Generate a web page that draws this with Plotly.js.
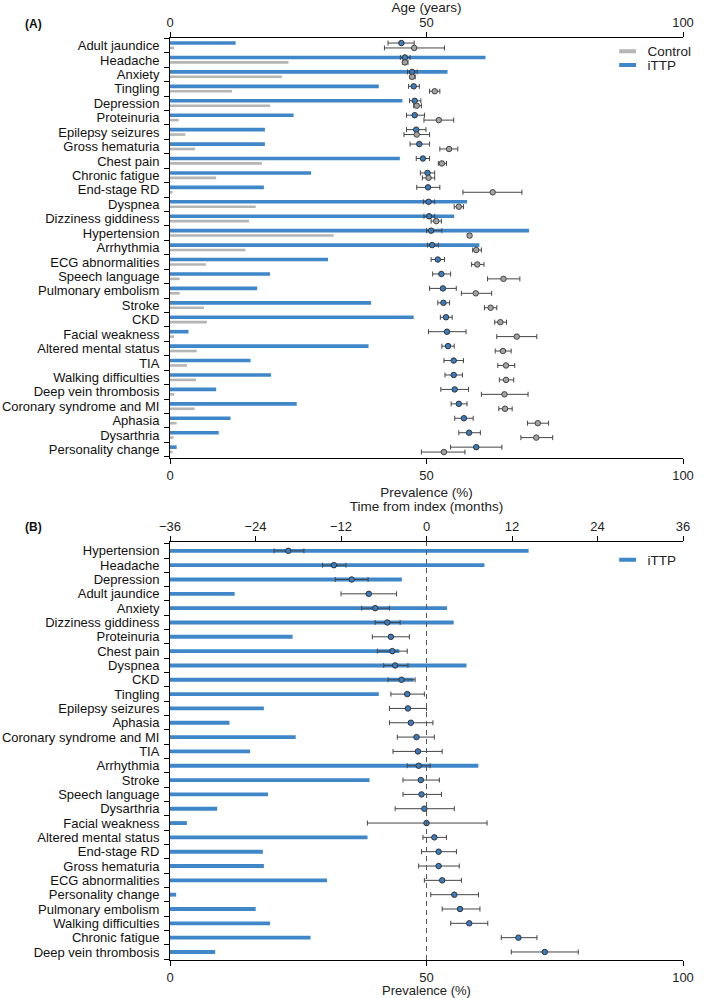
<!DOCTYPE html>
<html>
<head>
<meta charset="utf-8">
<script src="https://cdn.plot.ly/plotly-3.0.1.min.js"></script>
<style>body{margin:0;background:#fff}</style>
</head>
<body>
<div id="chart" style="width:709px;height:998px"></div>
<script>
/*===== Data =====*/
// Panel A - prevalence and age at onset, iTTP vs control
const symptomsA = ['Adult jaundice', 'Headache', 'Anxiety', 'Tingling', 'Depression', 'Proteinuria',
  'Epilepsy seizures', 'Gross hematuria', 'Chest pain', 'Chronic fatigue', 'End-stage RD', 'Dyspnea',
  'Dizziness giddiness', 'Hypertension', 'Arrhythmia', 'ECG abnormalities', 'Speech language',
  'Pulmonary embolism', 'Stroke', 'CKD', 'Facial weakness', 'Altered mental status', 'TIA',
  'Walking difficulties', 'Deep vein thrombosis', 'Coronary syndrome and MI', 'Aphasia', 'Dysarthria',
  'Personality change'];
const ittpPrevA = [12.8, 61.5, 54.1, 40.7, 45.3, 24.1, 18.5, 18.5, 44.8, 27.5, 18.3, 57.9, 55.4, 70.0, 60.3,
  30.8, 19.5, 17.0, 39.2, 47.5, 3.6, 38.7, 15.7, 19.7, 9.0, 24.7, 11.8, 9.5, 1.3];
const ctrlPrevA = [0.8, 23.1, 21.8, 12.1, 19.5, 1.7, 3.0, 4.9, 17.9, 9.0, 0.5, 16.7, 15.4, 31.9, 14.7,
  7.0, 1.9, 1.9, 6.6, 7.2, 0.8, 5.2, 3.3, 5.1, 0.8, 4.8, 1.3, 0.7, 0.5];
const ittpAge = [45.1, 45.8, 47.2, 47.5, 47.7, 47.7, 48.0, 48.6, 49.3, 50.2, 50.3, 50.4, 50.5, 50.9, 51.1,
  52.2, 52.9, 53.2, 53.3, 53.8, 54.0, 54.2, 55.3, 55.3, 55.5, 56.3, 57.3, 58.3, 59.7];
const ittpAgeLo = [42.5, 44.9, 46.3, 46.5, 46.7, 46.1, 46.1, 46.8, 48.0, 48.8, 48.1, 49.4, 49.5, 50.0, 50.2,
  50.9, 51.2, 50.6, 52.2, 52.7, 50.4, 53.0, 53.4, 53.6, 52.8, 54.8, 55.5, 56.3, 54.7];
const ittpAgeHi = [47.6, 46.8, 48.2, 48.6, 48.9, 49.6, 49.9, 50.6, 50.6, 51.6, 52.6, 51.6, 51.6, 53.0, 52.3,
  53.5, 54.7, 55.8, 54.5, 55.0, 57.7, 55.4, 57.2, 57.0, 58.2, 57.9, 59.1, 60.5, 64.7];
const ctrlAge = [47.6, 45.8, 47.2, 51.6, 48.1, 52.4, 48.1, 54.4, 53.0, 50.4, 62.9, 56.3, 51.9, 58.4, 59.7,
  59.9, 65.0, 59.6, 62.5, 64.4, 67.6, 64.9, 65.5, 65.5, 65.2, 65.3, 71.7, 71.4, 53.4];
const ctrlAgeLo = [41.8, 45.3, 46.8, 50.6, 47.5, 49.5, 45.6, 52.6, 52.3, 49.2, 57.1, 55.4, 50.9, 58.1, 59.0,
  58.8, 61.9, 56.8, 61.3, 63.3, 63.7, 63.4, 63.9, 64.2, 60.7, 64.1, 69.7, 68.4, 49.0];
const ctrlAgeHi = [53.5, 46.4, 47.8, 52.6, 49.0, 55.3, 50.6, 56.1, 53.9, 51.6, 68.6, 57.2, 52.9, 58.7, 60.7,
  61.2, 68.2, 62.7, 63.7, 65.6, 71.5, 66.5, 67.2, 67.0, 69.8, 66.7, 73.8, 74.6, 57.5];

// Panel B - prevalence and time from index, iTTP only
const symptomsB = ['Hypertension', 'Headache', 'Depression', 'Adult jaundice', 'Anxiety', 'Dizziness giddiness',
  'Proteinuria', 'Chest pain', 'Dyspnea', 'CKD', 'Tingling', 'Epilepsy seizures', 'Aphasia',
  'Coronary syndrome and MI', 'TIA', 'Arrhythmia', 'Stroke', 'Speech language', 'Dysarthria',
  'Facial weakness', 'Altered mental status', 'End-stage RD', 'Gross hematuria', 'ECG abnormalities',
  'Personality change', 'Pulmonary embolism', 'Walking difficulties', 'Chronic fatigue', 'Deep vein thrombosis'];
const ittpPrevB = [69.9, 61.3, 45.2, 12.6, 54.0, 55.3, 23.9, 44.7, 57.8, 47.5, 40.7, 18.3, 11.6, 24.5, 15.6,
  60.1, 38.9, 19.1, 9.2, 3.3, 38.5, 18.1, 18.3, 30.6, 1.2, 16.7, 19.5, 27.4, 8.8];
const timeB = [-19.4, -13.0, -10.5, -8.1, -7.2, -5.5, -5.0, -4.8, -4.4, -3.5, -2.7, -2.6, -2.2, -1.4, -1.2,
  -1.1, -0.8, -0.7, -0.3, 0.0, 1.1, 1.7, 1.7, 2.2, 3.9, 4.7, 6.0, 12.9, 16.6];
const timeLoB = [-21.4, -14.6, -12.8, -12.0, -9.1, -7.2, -7.6, -6.9, -6.0, -5.4, -5.0, -5.2, -5.2, -4.1, -4.7,
  -2.7, -3.3, -3.3, -4.4, -8.3, -0.5, -0.7, -1.1, -0.3, 0.6, 2.2, 3.4, 10.5, 11.9];
const timeHiB = [-17.2, -11.3, -8.2, -4.2, -5.2, -3.7, -2.4, -2.7, -2.6, -1.6, -0.3, 0.0, 0.9, 1.1, 2.2,
  0.5, 1.8, 2.1, 3.9, 8.5, 2.8, 4.2, 4.6, 4.9, 7.3, 7.5, 8.6, 15.5, 21.3];

/*===== Colors =====*/
const blue = '#3f87c8';
const grey = '#b5b5b5';
const font = 'Liberation Sans, Arial, sans-serif';

// row positions (index of each symptom), iTTP row slightly above control row in panel A
const rowA = symptomsA.map((s, i) => i);
const rowB = symptomsB.map((s, i) => i);
const upA = rowA.map(i => i - 0.17);
const downA = rowA.map(i => i + 0.17);

function plus(hi, mid) { return hi.map((h, i) => +(h - mid[i]).toFixed(2)); }
function minus(lo, mid) { return lo.map((l, i) => +(mid[i] - l).toFixed(2)); }

const errStyle = {type: 'data', symmetric: false, color: '#454545', thickness: 1, width: 2.5};

//Panel A traces
const barIttpA = {
  x: ittpPrevA, y: upA, type: 'bar', orientation: 'h', width: 0.25,
  marker: {color: blue}, xaxis: 'x', yaxis: 'y', showlegend: false
};
const barCtrlA = {
  x: ctrlPrevA, y: downA, type: 'bar', orientation: 'h', width: 0.18,
  marker: {color: grey}, xaxis: 'x', yaxis: 'y', showlegend: false
};
const ageIttp = {
  x: ittpAge, y: upA, type: 'scatter', mode: 'markers', xaxis: 'x2', yaxis: 'y',
  marker: {color: '#3b7cc0', size: 5.5, line: {color: '#333', width: 1}},
  error_x: Object.assign({array: plus(ittpAgeHi, ittpAge), arrayminus: minus(ittpAgeLo, ittpAge)}, errStyle),
  showlegend: false
};
const ageCtrl = {
  x: ctrlAge, y: downA, type: 'scatter', mode: 'markers', xaxis: 'x2', yaxis: 'y',
  marker: {color: '#a3a3a3', size: 5.5, line: {color: '#444', width: 1}},
  error_x: Object.assign({array: plus(ctrlAgeHi, ctrlAge), arrayminus: minus(ctrlAgeLo, ctrlAge)}, errStyle),
  showlegend: false
};
// legend entries (short line keys), one legend each so they can sit close together
const keyCtrl = {x: [null], y: [null], type: 'scatter', mode: 'markers', name: 'Control', legend: 'legend',
  marker: {symbol: 'line-ew', size: 12, line: {color: grey, width: 4}}, xaxis: 'x', yaxis: 'y'};
const keyIttp = {x: [null], y: [null], type: 'scatter', mode: 'markers', name: 'iTTP', legend: 'legend2',
  marker: {symbol: 'line-ew', size: 12, line: {color: blue, width: 4}}, xaxis: 'x', yaxis: 'y'};

//Panel B traces
const barIttpB = {
  x: ittpPrevB, y: rowB, type: 'bar', orientation: 'h', width: 0.27,
  marker: {color: blue}, xaxis: 'x3', yaxis: 'y2', showlegend: false
};
const timeIttp = {
  x: timeB, y: rowB, type: 'scatter', mode: 'markers', xaxis: 'x4', yaxis: 'y2',
  marker: {color: '#3b7cc0', size: 5.5, line: {color: '#333', width: 1}},
  error_x: Object.assign({array: plus(timeHiB, timeB), arrayminus: minus(timeLoB, timeB)}, errStyle),
  showlegend: false
};
const keyIttpB = {x: [null], y: [null], type: 'scatter', mode: 'markers', name: 'iTTP', legend: 'legend3',
  marker: {symbol: 'line-ew', size: 12, line: {color: blue, width: 4}}, xaxis: 'x3', yaxis: 'y2'};

const data = [barIttpA, barCtrlA, ageIttp, ageCtrl, keyCtrl, keyIttp, barIttpB, timeIttp, keyIttpB];

const xCommon = {
  showline: true, linecolor: '#000', linewidth: 1, ticks: 'outside', ticklen: 5, tickcolor: '#000',
  showgrid: false, zeroline: false, tickfont: {size: 13, color: '#222'}, fixedrange: true
};
const yCommon = {
  showline: true, linecolor: '#000', linewidth: 1, showgrid: false, zeroline: false,
  tickmode: 'array', ticks: '', tickfont: {size: 13, color: '#111'}, ticklabelstandoff: 7,
  minor: {ticks: 'outside', ticklen: 5, tickcolor: '#000', tickmode: 'linear', tick0: 0.5, dtick: 1, showgrid: false}
};
const titleFont = {size: 13.5, color: '#222'};

function legendAt(yPaper) {
  return {x: 0.853, y: yPaper, xanchor: 'left', yanchor: 'middle', bgcolor: 'rgba(0,0,0,0)',
    font: {size: 13.5, family: font, color: '#222'}, itemwidth: 30, borderwidth: 0};
}

const layout = {
  width: 709, height: 998,
  margin: {l: 170, r: 12, t: 38, b: 38},
  paper_bgcolor: '#fff', plot_bgcolor: '#fff',
  font: {family: font, color: '#222', size: 13},
  xaxis: Object.assign({}, xCommon, {anchor: 'y', side: 'bottom', range: [0, 100], tickvals: [0, 50, 100],
    title: {text: 'Prevalence (%)', font: titleFont, standoff: 5}}),
  xaxis2: Object.assign({}, xCommon, {anchor: 'y', overlaying: 'x', side: 'top', range: [0, 100],
    tickvals: [0, 50, 100], title: {text: 'Age (years)', font: titleFont, standoff: 4}}),
  xaxis3: Object.assign({}, xCommon, {anchor: 'y2', side: 'bottom', range: [0, 100], tickvals: [0, 50, 100],
    title: {text: 'Prevalence (%)', font: {size: 13, color: '#222'}, standoff: 6}}),
  xaxis4: Object.assign({}, xCommon, {anchor: 'y2', overlaying: 'x3', side: 'top', range: [-36, 36],
    tickmode: 'linear', tick0: -36, dtick: 12, title: {text: 'Time from index (months)', font: titleFont, standoff: 4}}),
  yaxis: Object.assign({}, yCommon, {domain: [0.5445, 1], anchor: 'x', range: [28.58, -0.52],
    tickvals: rowA, ticktext: symptomsA}),
  yaxis2: Object.assign({}, yCommon, {domain: [0, 0.4534], anchor: 'x3', range: [28.56, -0.62],
    tickvals: rowB, ticktext: symptomsB}),
  legend: legendAt(0.9855),
  legend2: legendAt(0.9705),
  legend3: legendAt(0.434),
  shapes: [{type: 'line', xref: 'x4', yref: 'y2 domain', x0: 0, x1: 0, y0: 0, y1: 1,
    line: {color: '#555', width: 1, dash: '5px,4px'}}],
  annotations: [
    {text: '<b>(A)</b>', xref: 'paper', yref: 'paper', x: -0.286, y: 1.0152, xanchor: 'left', yanchor: 'middle',
      showarrow: false, font: {size: 12, family: font, color: '#111'}},
    {text: '<b>(B)</b>', xref: 'paper', yref: 'paper', x: -0.286, y: 0.4695, xanchor: 'left', yanchor: 'middle',
      showarrow: false, font: {size: 12, family: font, color: '#111'}}
  ]
};

Plotly.newPlot('chart', data, layout, {displayModeBar: false, staticPlot: true});
</script>
</body>
</html>
